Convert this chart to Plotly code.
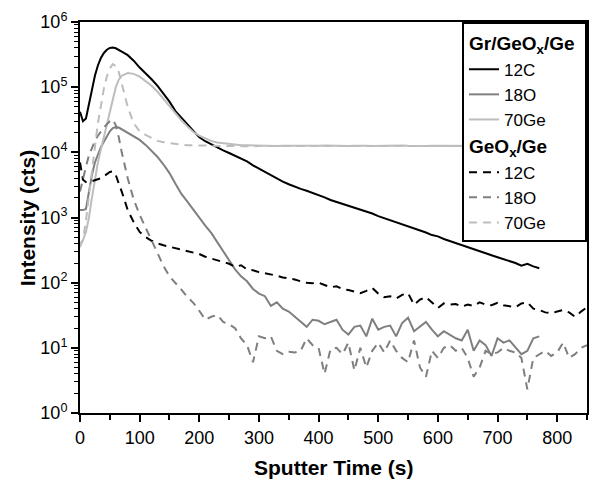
import plotly.graph_objects as go

# ---------------- data ----------------
t_early = [0, 5, 10, 15, 20, 25, 30, 35, 40, 45, 50, 55, 60, 65, 70]
t_gr = t_early + list(range(80, 771, 10))
t_gx = t_early + list(range(80, 851, 10))

# Gr/GeOx/Ge
gr_12c = [42000, 30000, 33000, 55000, 95000, 150000, 215000, 280000, 335000, 375000,
          400000, 405000, 395000, 375000, 350000,
          310000, 255000, 200000, 165000, 132000, 105000, 80000, 60000, 43000, 34000,
          27500, 22000, 17000, 14800, 13200, 11750, 10700, 9770, 8910, 8130,
          7240, 6310, 5620, 5010, 4370, 3890, 3550, 3240, 2950, 2750,
          2570, 2400, 2190, 2040, 1860, 1740, 1620, 1510, 1410, 1320,
          1230, 1150, 1050, 977, 912, 851, 794, 724, 676, 631,
          589, 537, 513, 468, 437, 407, 372, 355, 331, 302,
          288, 263, 245, 229, 219, 200, 182, 195, 178, 166]
gr_18o = [1300, 1300, 1350, 2500, 4500, 7000, 9500, 12000, 14500, 17500,
          21000, 23500, 24500, 24000, 22500,
          20000, 17500, 15500, 13000, 10500, 8500, 6500, 4800, 3300, 2300,
          1750, 1300, 1000, 750, 580, 420, 310, 220, 160, 125,
          105, 80, 68, 62, 44, 50, 40, 36, 30, 25,
          21, 27, 26, 23, 25, 27, 19, 16, 21, 22,
          15, 28, 19, 21, 22, 15, 24, 29, 18, 21,
          25, 19, 15, 18, 16, 14, 13, 19, 9, 13,
          11, 7.5, 14, 12, 13, 10, 8, 9, 14, 15]
gr_70ge = [400, 450, 600, 1000, 2000, 4000, 7000, 11000, 17000, 27000,
           45000, 70000, 100000, 130000, 150000,
           165000, 160000, 145000, 125000, 105000, 85000, 66000, 50000, 40000, 31000,
           25000, 20500, 18000, 16300, 15000, 14200, 13800, 13400, 13100, 12900,
           12800, 12700, 12600, 12700, 12600, 12500, 12600, 12700, 12500, 12600,
           12600, 12500, 12600, 12700, 12600, 12500, 12600, 12500, 12600, 12700,
           12600, 12500, 12600, 12600, 12500, 12600, 12700, 12600, 12500, 12600,
           12500, 12600, 12600, 12500, 12600, 12600, 12500, 12600, 12500, 12600,
           12600, 12500, 12600, 12500, 12600, 12500, 12600, 12500, 12600, 12500]

# GeOx/Ge
gx_12c = [7000, 3800, 3500, 3500, 3600, 3700, 3800, 4000, 4300, 4700,
          5000, 5100, 4500, 3300, 2500,
          1300, 850, 600, 500, 440, 400, 375, 355, 340, 320,
          300, 290, 275, 250, 235, 220, 210, 195, 175, 185,
          160, 155, 145, 140, 132, 128, 120, 117, 112, 105,
          100, 98, 100, 92, 85, 88, 80, 77, 72, 69,
          75, 83, 68, 60, 62, 57, 65, 69, 46, 55,
          60, 50, 41, 48, 46, 47, 43, 46, 44, 50,
          46, 45, 49, 45, 44, 42, 48, 50, 40, 38,
          35, 34, 36, 38, 35, 30, 36, 42]
gx_18o = [2500, 4000, 6000, 9000, 12000, 15000, 18000, 21000, 24000, 27000,
          30000, 32000, 26000, 17000, 10000,
          4000, 1900, 1100, 700, 430, 270, 180, 125, 100, 78,
          60, 49, 37, 27, 30, 32, 25, 23, 20, 14,
          11, 6, 15, 14, 15, 9, 8, 8.7, 8.5, 9,
          14, 11, 10, 4, 9.5, 10, 8, 12, 4.5, 10,
          5, 9, 12, 8.5, 13, 9, 7, 6, 13, 5,
          3.6, 9, 7, 10, 11, 9, 10, 7, 3.6, 5,
          9, 8, 8.5, 10, 9, 8.5, 7, 2.3, 7, 8,
          9, 7.5, 8.5, 12, 7, 8, 10, 11]
gx_70ge = [350, 450, 900, 2000, 5000, 12000, 28000, 55000, 95000, 145000,
           195000, 225000, 210000, 170000, 110000,
           50000, 28000, 21000, 18500, 16500, 15000, 14300, 13800, 13400, 13100,
           12900, 12800, 12600, 12500, 12500, 12400, 12500, 12500, 12400, 12500,
           12500, 12400, 12500, 12500, 12400, 12500, 12500, 12400, 12500, 12500,
           12400, 12500, 12500, 12400, 12500, 12500, 12400, 12500, 12500, 12400,
           12500, 12500, 12400, 12500, 12500, 12400, 12500, 12500, 12400, 12500,
           12500, 12400, 12500, 12500, 12400, 12500, 12500, 12400, 12500, 12500,
           12400, 12500, 12500, 12400, 12500, 12500, 12400, 12500, 12500, 12400,
           12500, 12500, 12400, 12500, 12500, 12400, 12500, 12500]

species = ["12C", "18O", "70Ge"]
group_titles = ["<b>Gr/GeO<sub>x</sub>/Ge</b>", "<b>GeO<sub>x</sub>/Ge</b>"]
y_exponents = [0, 1, 2, 3, 4, 5, 6]
x_ticks = [0, 100, 200, 300, 400, 500, 600, 700, 800]

# ---------------- figure ----------------
BLACK = "#000000"
MID = "#7f7f7f"
LIGHT = "#bdbdbd"
FONT = "Liberation Sans, Arial, sans-serif"

fig = go.Figure()
series = [
    ("gr", t_gr, gr_12c, BLACK, "solid", 0, species[0]),
    ("gr", t_gr, gr_18o, MID, "solid", 0, species[1]),
    ("gr", t_gr, gr_70ge, LIGHT, "solid", 0, species[2]),
    ("gx", t_gx, gx_12c, BLACK, "8px,6px", 1, species[0]),
    ("gx", t_gx, gx_18o, MID, "8px,6px", 1, species[1]),
    ("gx", t_gx, gx_70ge, LIGHT, "8px,6px", 1, species[2]),
]
for grp, tx, ty, col, dash, gi, name in series:
    fig.add_trace(go.Scatter(
        x=tx, y=ty, mode="lines", name=name,
        line=dict(color=col, width=2, dash=dash),
        legendgroup=grp,
        legendgrouptitle=dict(text=group_titles[gi], font=dict(size=19, color="black", family=FONT)),
    ))

minor_vals = [k * 10 ** e for e in range(0, 6) for k in range(2, 10)]

fig.update_layout(
    width=593, height=488,
    margin=dict(l=80, r=6, t=22, b=75),
    paper_bgcolor="white", plot_bgcolor="white",
    font=dict(family=FONT, size=18, color="black"),
    showlegend=True,
    legend=dict(
        x=1, y=1, xanchor="right", yanchor="top",
        bgcolor="white", bordercolor="black", borderwidth=2,
        font=dict(size=17, family=FONT, color="black"),
        tracegroupgap=0, itemwidth=30,
    ),
    xaxis=dict(
        range=[0, 850], automargin=False,
        tickvals=x_ticks, ticktext=[str(v) for v in x_ticks],
        ticks="outside", ticklen=7, tickwidth=2, tickcolor="black",
        minor=dict(dtick=50, tick0=0, ticks="outside", ticklen=5, tickwidth=2, tickcolor="black"),
        showline=True, linecolor="black", linewidth=2, mirror=True,
        showgrid=False, zeroline=False,
        tickfont=dict(size=18),
    ),
    yaxis=dict(
        type="log", range=[0, 6], automargin=False,
        tickvals=[10 ** e for e in y_exponents],
        ticktext=["10<sup>%d</sup>" % e for e in y_exponents],
        ticks="outside", ticklen=7, tickwidth=2, tickcolor="black",
        minor=dict(tickvals=minor_vals, ticks="outside", ticklen=4, tickwidth=1, tickcolor="black"),
        showline=True, linecolor="black", linewidth=2, mirror=True,
        showgrid=False, zeroline=False,
        tickfont=dict(size=18),
    ),
    annotations=[
        dict(text="<b>Sputter Time (s)</b>", xref="paper", yref="paper",
             x=0.5, y=-0.14, xanchor="center", yanchor="middle",
             showarrow=False, font=dict(size=21, family=FONT, color="black")),
        dict(text="<b>Intensity (cts)</b>", xref="paper", yref="paper",
             x=-0.103, y=0.5, xanchor="center", yanchor="middle", textangle=-90,
             showarrow=False, font=dict(size=21, family=FONT, color="black")),
    ],
)

fig.write_html("out.html", config={"displayModeBar": False},
               post_script="document.body.style.margin='0';")
